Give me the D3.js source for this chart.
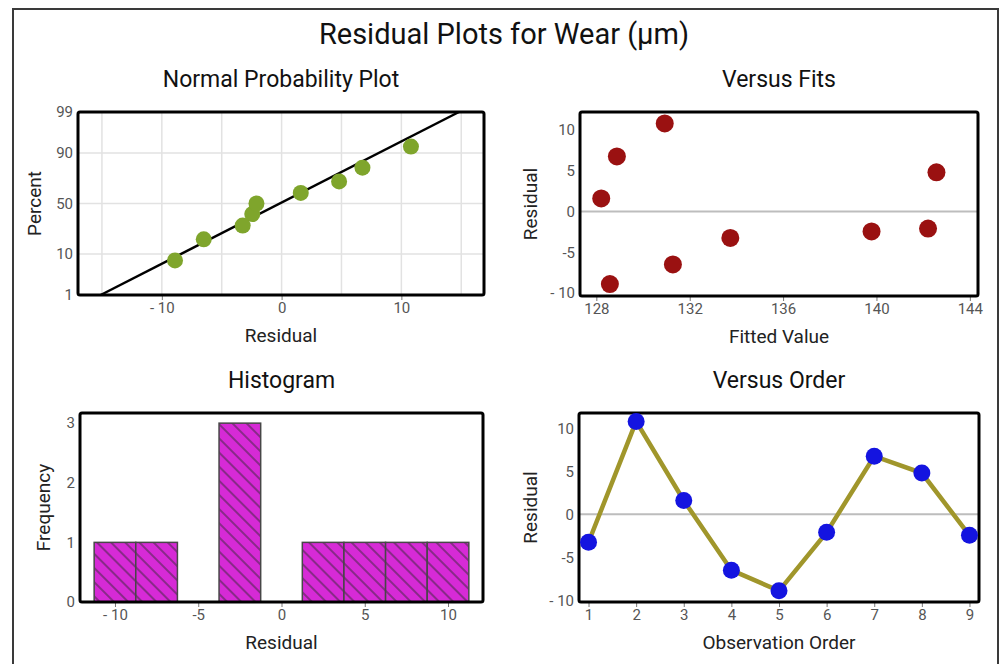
<!DOCTYPE html>
<html><head><meta charset="utf-8">
<script src="https://cdn.jsdelivr.net/npm/d3@7"></script>
<style>
body{margin:0;background:#fff}
text{font-family:Roboto,"Noto Sans",sans-serif}
</style>
</head><body><svg id="c" width="1001" height="664"></svg>
<script>
// ---------- data ----------
const observationOrder = [1, 2, 3, 4, 5, 6, 7, 8, 9];
const residuals = [-3.25, 10.8, 1.6, -6.5, -8.9, -2.1, 6.75, 4.8, -2.45];
const fittedValues = [133.74, 130.93, 128.21, 131.28, 128.58, 142.21, 128.88, 142.57, 139.79];
const probPercents = [7.4, 18.1, 28.7, 39.4, 50, 60.6, 71.3, 81.9, 92.6];
const lineMean = -0.15;
const lineSd = 6.43;
const probTicks = [1, 10, 50, 90, 99];
const probGrid = [10, 50, 90];
const normXTicks = [-10, 0, 10];
const normXGrid = [-15, -10, -5, 0, 5, 10, 15];
const histBinCenters = [-10, -7.5, -5, -2.5, 0, 2.5, 5, 7.5, 10];
const histCounts = [1, 1, 0, 3, 0, 1, 1, 1, 1];
const histBinWidth = 2.5;
const histXTicks = [-10, -5, 0, 5, 10];
const histYTicks = [0, 1, 2, 3];
const fitsXTicks = [128, 132, 136, 140, 144];
const residYTicks = [-10, -5, 0, 5, 10];

// ---------- helpers ----------
function normInv(p) {
  const a = [-3.969683028665376e+01, 2.209460984245205e+02, -2.759285104469687e+02, 1.383577518672690e+02, -3.066479806614716e+01, 2.506628277459239e+00];
  const b = [-5.447609879822406e+01, 1.615858368580409e+02, -1.556989798598866e+02, 6.680131188771972e+01, -1.328068155288572e+01];
  const c = [-7.784894002430293e-03, -3.223964580411365e-01, -2.400758277161838e+00, -2.549732539343734e+00, 4.374664141464968e+00, 2.938163982698783e+00];
  const d = [7.784695709041462e-03, 3.224671290700398e-01, 2.445134137142996e+00, 3.754408661907416e+00];
  const pl = 0.02425, ph = 1 - pl;
  let q, r;
  if (p < pl) { q = Math.sqrt(-2 * Math.log(p)); return (((((c[0]*q+c[1])*q+c[2])*q+c[3])*q+c[4])*q+c[5]) / ((((d[0]*q+d[1])*q+d[2])*q+d[3])*q+1); }
  if (p <= ph) { q = p - 0.5; r = q*q; return (((((a[0]*r+a[1])*r+a[2])*r+a[3])*r+a[4])*r+a[5])*q / (((((b[0]*r+b[1])*r+b[2])*r+b[3])*r+b[4])*r+1); }
  q = Math.sqrt(-2 * Math.log(1 - p)); return -(((((c[0]*q+c[1])*q+c[2])*q+c[3])*q+c[4])*q+c[5]) / ((((d[0]*q+d[1])*q+d[2])*q+d[3])*q+1);
}
const numFmt = d => String(d).replace("-", "- ").replace("- 5", "-5");

const svg = d3.select("#c");
const TICK_COL = "#555";

// outer frame
svg.append("rect").attr("x", 13).attr("y", 9).attr("width", 985).attr("height", 700)
  .attr("fill", "none").attr("stroke", "#3a3a3a").attr("stroke-width", 2);

svg.append("text").attr("x", 504).attr("y", 36).attr("text-anchor", "middle")
  .attr("dominant-baseline", "middle").attr("font-size", 29).attr("fill", "#111")
  .text("Residual Plots for Wear (µm)");

// hatch pattern
const defs = svg.append("defs");
const pat = defs.append("pattern").attr("id", "hatch").attr("patternUnits", "userSpaceOnUse")
  .attr("width", 10).attr("height", 10).attr("patternTransform", "rotate(-45)");
pat.append("rect").attr("width", 10).attr("height", 10).attr("fill", "#d62ad6");
pat.append("line").attr("x1", 5).attr("y1", 0).attr("x2", 5).attr("y2", 10)
  .attr("stroke", "#5e2a5e").attr("stroke-width", 1.3);

function panel(box, title, xlab, ylab, ylabX) {
  const g = svg.append("g");
  g.append("text").attr("x", (box.x0 + box.x1) / 2).attr("y", box.y0 - 31)
    .attr("text-anchor", "middle").attr("dominant-baseline", "middle")
    .attr("font-size", 23).attr("fill", "#111").text(title);
  g.append("text").attr("x", (box.x0 + box.x1) / 2).attr("y", box.y1 + 42)
    .attr("text-anchor", "middle").attr("dominant-baseline", "middle")
    .attr("font-size", 19).attr("fill", "#222").text(xlab);
  g.append("text").attr("transform", `translate(${ylabX},${(box.y0 + box.y1) / 2}) rotate(-90)`)
    .attr("text-anchor", "middle").attr("dominant-baseline", "middle")
    .attr("font-size", 19).attr("fill", "#222").text(ylab);
  return g;
}
function frame(box) {
  svg.append("rect").attr("x", box.x0).attr("y", box.y0).attr("width", box.x1 - box.x0)
    .attr("height", box.y1 - box.y0).attr("rx", 2).attr("fill", "none")
    .attr("stroke", "#000").attr("stroke-width", 3);
}
function styleAxis(sel) {
  sel.select(".domain").remove();
  sel.selectAll(".tick line").attr("stroke", "#777").attr("stroke-width", 1);
  sel.selectAll(".tick text").attr("fill", TICK_COL).attr("font-size", 15)
    .attr("font-family", "Roboto, sans-serif");
}
function xAxis(box, scale, ticks, fmt) {
  const ax = svg.append("g").attr("transform", `translate(0,${box.y1})`)
    .call(d3.axisBottom(scale).tickValues(ticks).tickSize(5).tickPadding(2).tickFormat(fmt || numFmt));
  styleAxis(ax);
}
function yAxis(box, scale, ticks, fmt) {
  const ax = svg.append("g").attr("transform", `translate(${box.x0 - 2},0)`)
    .call(d3.axisLeft(scale).tickValues(ticks).tickSize(0).tickPadding(3).tickFormat(fmt || numFmt));
  styleAxis(ax);
}

// ---------- Panel A: Normal probability ----------
const A = {x0: 78, x1: 484, y0: 112, y1: 295};
panel(A, "Normal Probability Plot", "Residual", "Percent", 36);
const ax = d3.scaleLinear().domain([-17, 16.9]).range([A.x0, A.x1]);
const ay = d3.scaleLinear().domain([normInv(0.01), normInv(0.99)]).range([A.y1, A.y0]);
const gA = svg.append("g");
gA.selectAll(".vg").data(normXGrid).join("line")
  .attr("x1", d => ax(d)).attr("x2", d => ax(d)).attr("y1", A.y0).attr("y2", A.y1)
  .attr("stroke", "#e2e2e2").attr("stroke-width", 1.5);
gA.selectAll(".hg").data(probGrid).join("line")
  .attr("x1", A.x0).attr("x2", A.x1).attr("y1", d => ay(normInv(d / 100))).attr("y2", d => ay(normInv(d / 100)))
  .attr("stroke", "#e2e2e2").attr("stroke-width", 1.5);
const lineEnds = [0.01, 0.99].map(p => ({x: lineMean + lineSd * normInv(p), z: normInv(p)}));
gA.append("path").datum(lineEnds)
  .attr("d", d3.line().x(d => ax(d.x)).y(d => ay(d.z)))
  .attr("stroke", "#000").attr("stroke-width", 2.5).attr("fill", "none");
const sortedRes = residuals.slice().sort((a, b) => a - b);
gA.selectAll("circle").data(sortedRes).join("circle")
  .attr("cx", d => ax(d)).attr("cy", (d, i) => ay(normInv(probPercents[i] / 100)))
  .attr("r", 8).attr("fill", "#7fa52c");
xAxis(A, ax, normXTicks);
yAxis(A, ay, probTicks.map(p => normInv(p / 100)), (d, i) => String(probTicks[i]));
frame(A);

// ---------- Panel B: Versus fits ----------
const B = {x0: 580, x1: 978, y0: 112, y1: 296};
panel(B, "Versus Fits", "Fitted Value", "Residual", 532);
const bx = d3.scaleLinear().domain([127.3, 144.35]).range([B.x0, B.x1]);
const by = d3.scaleLinear().domain([-10.37, 12.2]).range([B.y1, B.y0]);
svg.append("line").attr("x1", B.x0).attr("x2", B.x1).attr("y1", by(0)).attr("y2", by(0))
  .attr("stroke", "#bdbdbd").attr("stroke-width", 2);
svg.append("g").selectAll("circle").data(residuals).join("circle")
  .attr("cx", (d, i) => bx(fittedValues[i])).attr("cy", d => by(d))
  .attr("r", 9).attr("fill", "#9a1111");
xAxis(B, bx, fitsXTicks);
yAxis(B, by, residYTicks);
frame(B);

// ---------- Panel C: Histogram ----------
const C = {x0: 80, x1: 483, y0: 413, y1: 602};
panel(C, "Histogram", "Residual", "Frequency", 45);
const cx = d3.scaleLinear().domain([-12.1, 12.1]).range([C.x0, C.x1]);
const cy = d3.scaleLinear().domain([0, 3.17]).range([C.y1, C.y0]);
svg.append("g").selectAll("rect").data(histCounts.map((c, i) => ({c, m: histBinCenters[i]})).filter(d => d.c > 0))
  .join("rect")
  .attr("x", d => cx(d.m - histBinWidth / 2)).attr("width", d => cx(d.m + histBinWidth / 2) - cx(d.m - histBinWidth / 2))
  .attr("y", d => cy(d.c)).attr("height", d => cy(0) - cy(d.c))
  .attr("fill", "url(#hatch)").attr("stroke", "#474747").attr("stroke-width", 1.5);
xAxis(C, cx, histXTicks);
yAxis(C, cy, histYTicks);
frame(C);

// ---------- Panel D: Versus order ----------
const D = {x0: 579, x1: 979, y0: 413, y1: 602};
panel(D, "Versus Order", "Observation Order", "Residual", 532);
const dx = d3.scaleLinear().domain([0.8, 9.2]).range([D.x0, D.x1]);
const dy = d3.scaleLinear().domain([-10.2, 11.78]).range([D.y1, D.y0]);
svg.append("line").attr("x1", D.x0).attr("x2", D.x1).attr("y1", dy(0)).attr("y2", dy(0))
  .attr("stroke", "#bdbdbd").attr("stroke-width", 2);
xAxis(D, dx, observationOrder);
yAxis(D, dy, residYTicks);
frame(D);
svg.append("path").datum(residuals)
  .attr("d", d3.line().x((d, i) => dx(observationOrder[i])).y(d => dy(d)))
  .attr("fill", "none").attr("stroke", "#a0962b").attr("stroke-width", 4.5);
svg.append("g").selectAll("circle").data(residuals).join("circle")
  .attr("cx", (d, i) => dx(observationOrder[i])).attr("cy", d => dy(d))
  .attr("r", 8.5).attr("fill", "#1414e0");
</script>
</body></html>
